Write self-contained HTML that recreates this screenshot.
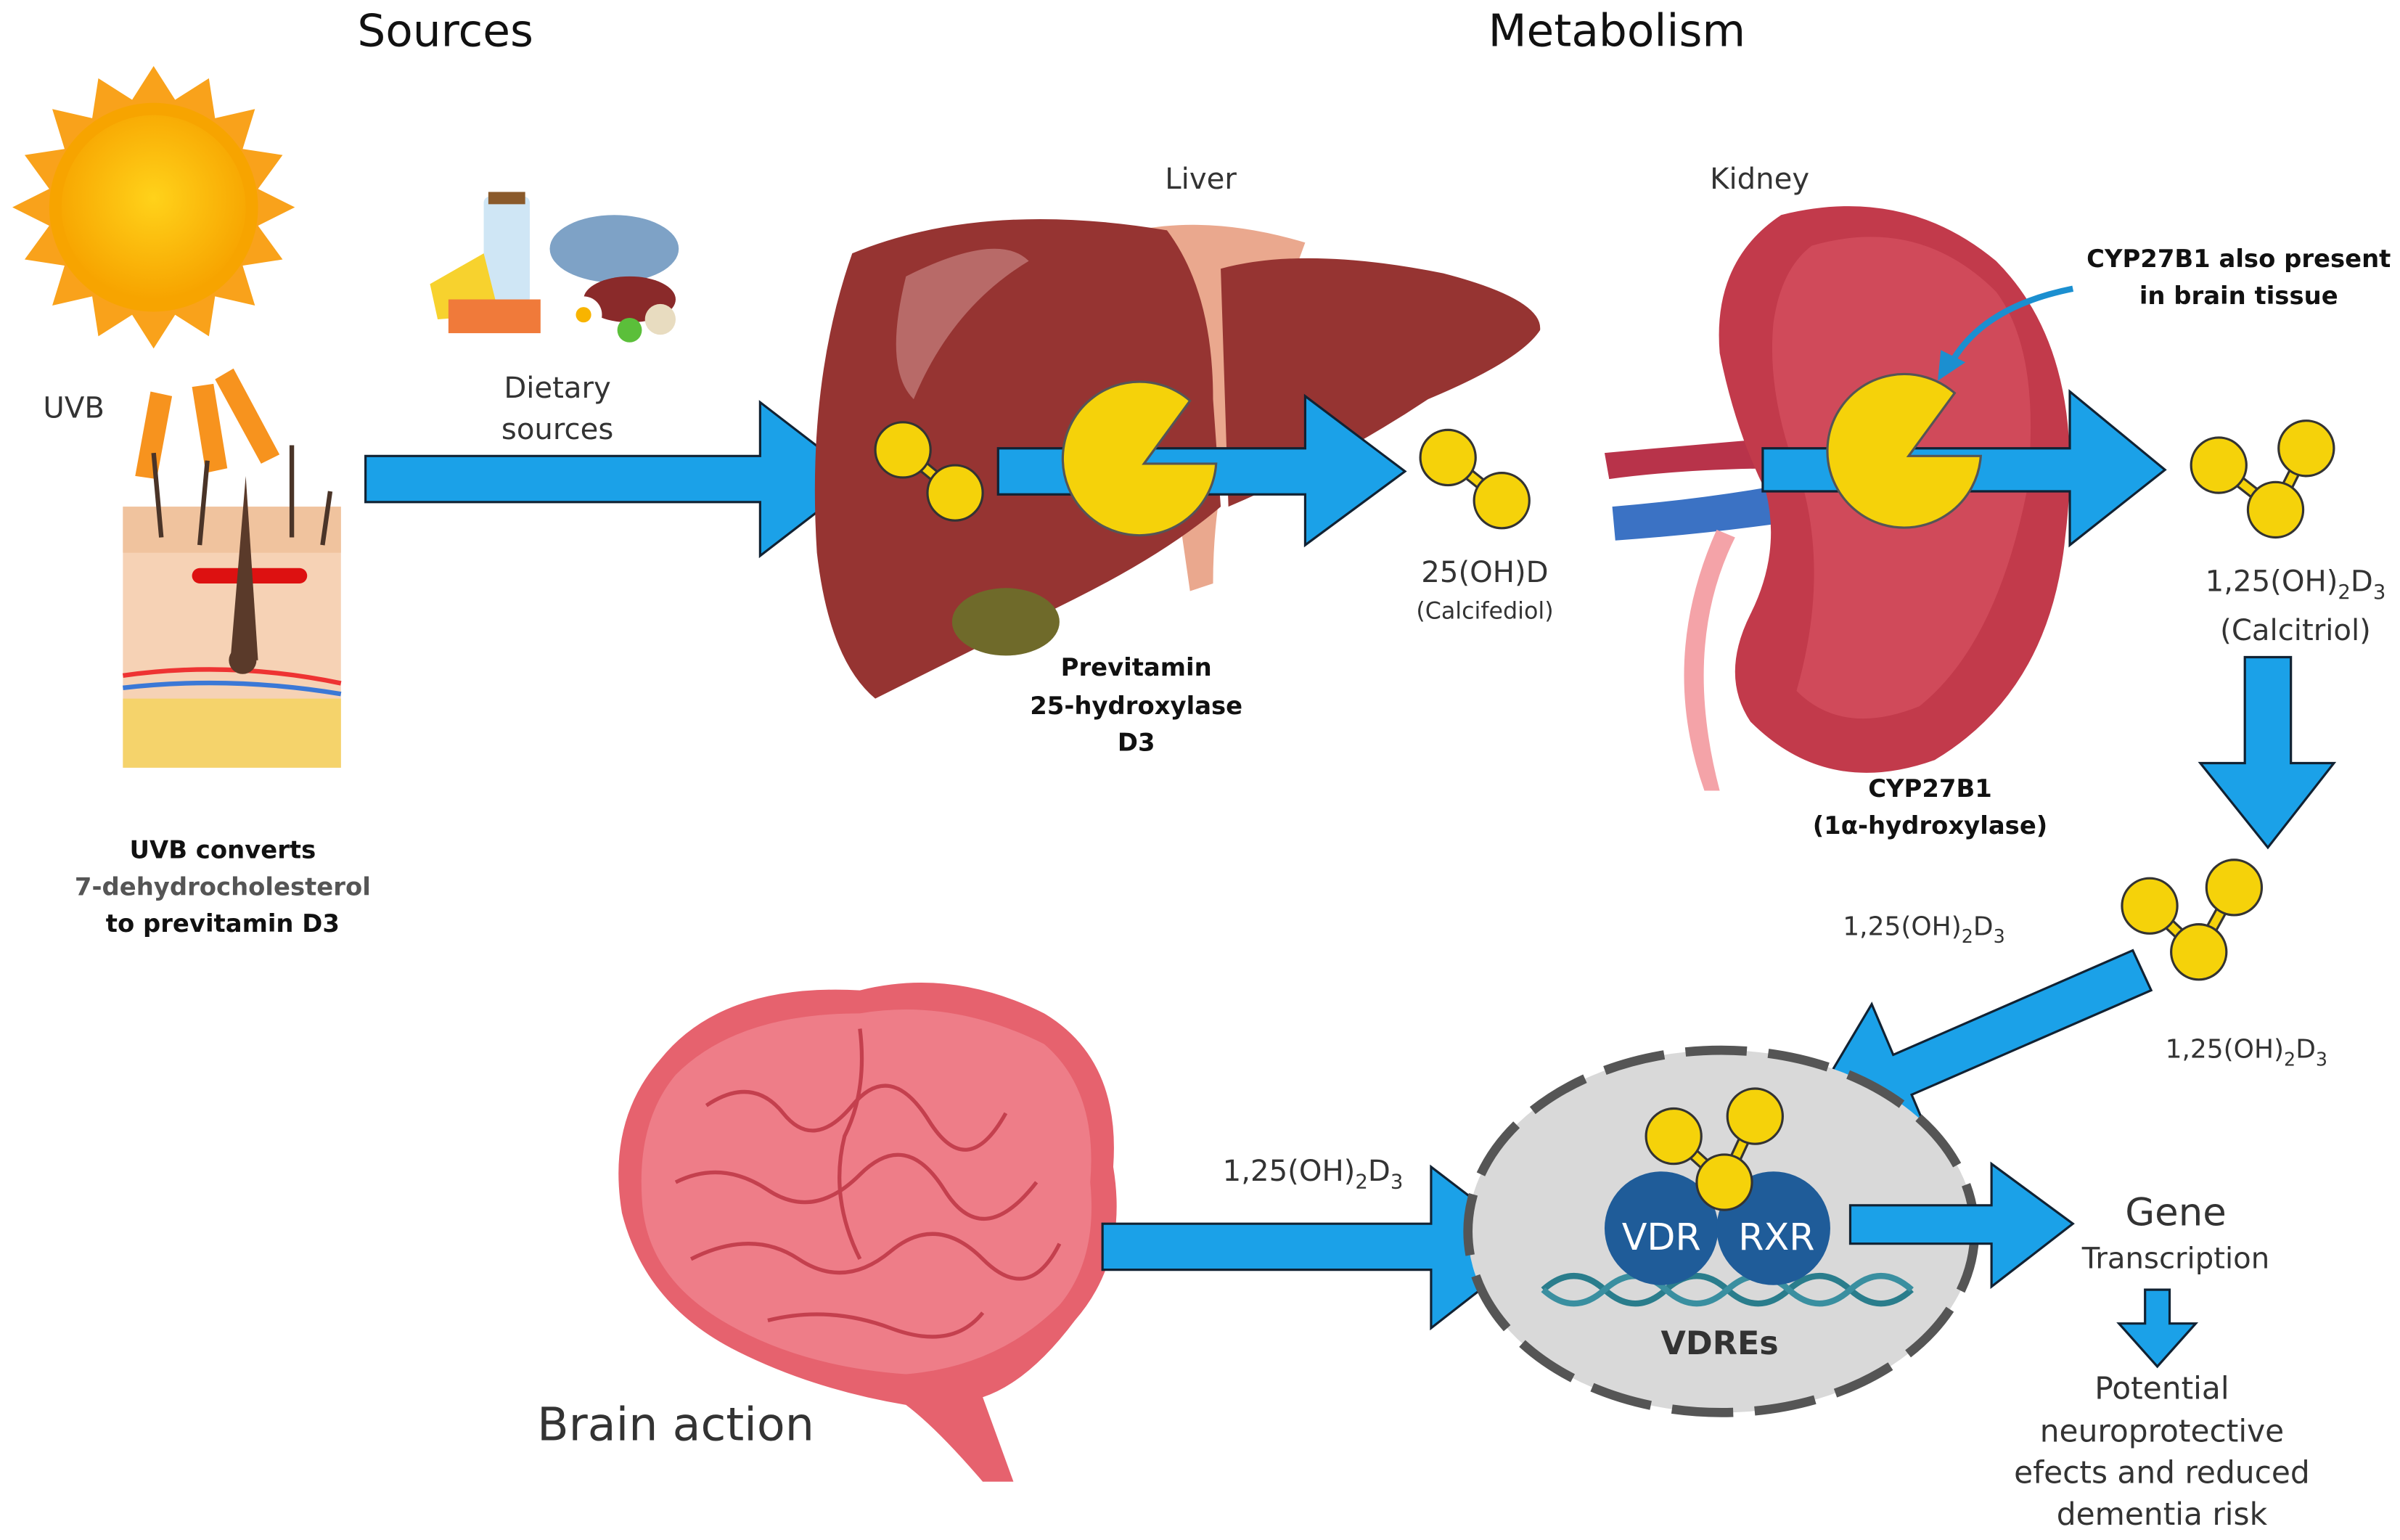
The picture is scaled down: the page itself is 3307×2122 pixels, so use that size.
<!DOCTYPE html>
<html><head><meta charset="utf-8"><style>
html,body{margin:0;padding:0;background:#fff}
svg{display:block}
text{font-family:"DejaVu Sans","Liberation Sans",sans-serif;fill:#333}
.b{font-weight:bold;fill:#111}
</style></head><body>
<svg width="3307" height="2122" viewBox="0 0 1563 1003" xmlns="http://www.w3.org/2000/svg">
<defs>
<radialGradient id="sun" cx="50%" cy="45%" r="55%"><stop offset="0" stop-color="#ffd21a"/><stop offset="1" stop-color="#f7a400"/></radialGradient>
</defs>

<text x="290" y="30" font-size="29" text-anchor="middle" style="fill:#111">Sources</text>
<text x="1053" y="30" font-size="29" text-anchor="middle" style="fill:#111">Metabolism</text>

<!-- Sun -->
<g transform="translate(100,135)">
<polygon fill="#f9a21b" points="0,-92 14,-70 36,-84 40,-58 66,-64 58,-38 84,-34 68,-12 92,0 68,12 84,34 58,38 66,64 40,58 36,84 14,70 0,92 -14,70 -36,84 -40,58 -66,64 -58,38 -84,34 -68,12 -92,0 -68,-12 -84,-34 -58,-38 -66,-64 -40,-58 -36,-84 -14,-70"/>
<circle r="68" fill="#f7a400"/>
<circle r="60" fill="url(#sun)"/>
</g>
<text x="48" y="272" font-size="19" text-anchor="middle">UVB</text>
<g fill="#f7931e">
<polygon points="98,255 112,258 102,312 88,310"/>
<polygon points="125,252 139,250 148,305 134,308"/>
<polygon points="140,247 152,240 182,296 170,302"/>
</g>
<!-- Skin -->
<rect x="80" y="330" width="142" height="170" fill="#f6d2b5"/>
<rect x="80" y="330" width="142" height="30" fill="#f0c39e"/>
<rect x="80" y="455" width="142" height="45" fill="#f5d36b"/>
<path d="M80,440 Q150,430 222,445" stroke="#e33" stroke-width="3" fill="none"/>
<path d="M80,448 Q150,440 222,452" stroke="#3b78d6" stroke-width="3" fill="none"/>
<rect x="125" y="370" width="75" height="10" fill="#d11" rx="5"/>
<path d="M150,430 L160,310 L168,430 Z" fill="#5a3a2a"/>
<circle cx="158" cy="430" r="9" fill="#5a3a2a"/>
<g stroke="#4a3428" stroke-width="3"><line x1="105" y1="350" x2="100" y2="295"/><line x1="130" y1="355" x2="135" y2="300"/><line x1="190" y1="350" x2="190" y2="290"/><line x1="210" y1="355" x2="215" y2="320"/></g>
<text x="145" y="559" font-size="16" class="b" text-anchor="middle">UVB converts</text>
<text x="145" y="583" font-size="16" class="b" text-anchor="middle" style="fill:#555">7-dehydrocholesterol</text>
<text x="145" y="607" font-size="16" class="b" text-anchor="middle">to previtamin D3</text>

<!-- Food -->
<rect x="315" y="128" width="30" height="70" fill="#cfe6f5" rx="4"/>
<rect x="318" y="125" width="24" height="8" fill="#8a5a2b"/>
<ellipse cx="400" cy="162" rx="42" ry="22" fill="#7ea2c6"/>
<polygon points="280,185 315,165 325,205 285,208" fill="#f7d22e"/>
<rect x="292" y="195" width="60" height="22" fill="#f07a3a"/>
<ellipse cx="410" cy="195" rx="30" ry="15" fill="#8a2a2a"/>
<circle cx="380" cy="205" r="12" fill="#fff"/><circle cx="380" cy="205" r="5" fill="#f8b400"/>
<circle cx="410" cy="215" r="8" fill="#5bbf3a"/><circle cx="430" cy="208" r="10" fill="#e8dcc0"/>
<text x="363" y="259" font-size="19" text-anchor="middle">Dietary</text>
<text x="363" y="286" font-size="19" text-anchor="middle">sources</text>

<!-- Arrow 1 -->
<path d="M238,297 H495 V262 L560,312 L495,362 V327 H238 Z" fill="#1ba1e8" stroke="#123" stroke-width="1.5"/>

<!-- Liver -->
<text x="782" y="123" font-size="19" text-anchor="middle">Liver</text>
<path d="M740,150 Q790,140 850,158 L820,240 Q790,300 790,380 L775,385 Q760,280 740,150Z" fill="#eaa88e"/>
<path d="M555,165 Q640,130 760,150 Q790,190 790,260 L795,330 Q760,360 700,390 Q640,420 570,455 Q540,430 532,360 Q525,250 555,165Z" fill="#963432"/>
<path d="M795,175 Q850,160 940,178 Q1005,195 1003,215 Q990,235 930,260 Q870,300 800,330 Z" fill="#963432"/>
<path d="M590,180 Q650,150 670,170 Q620,200 595,260 Q575,240 590,180Z" fill="#b86a68"/>
<ellipse cx="655" cy="405" rx="35" ry="22" fill="#6f6a2a"/>
<text x="740" y="440" font-size="16" class="b" text-anchor="middle">Previtamin</text>
<text x="740" y="465" font-size="16" class="b" text-anchor="middle">25-hydroxylase</text>
<text x="740" y="489" font-size="16" class="b" text-anchor="middle">D3</text>

<g stroke="#333" stroke-width="1.5" fill="#f5d20a">
<line x1="588" y1="293" x2="622" y2="321" stroke-width="8" stroke="#333"/><line x1="588" y1="293" x2="622" y2="321" stroke-width="5" stroke="#f5d20a"/>
<circle cx="588" cy="293" r="18"/><circle cx="622" cy="321" r="18"/>
</g>

<!-- Arrow 2 -->
<path d="M650,292 H850 V258 L915,307 L850,355 V322 H650 Z" fill="#1ba1e8" stroke="#123" stroke-width="1.5"/>
<path d="M745,302 L775,261 A50,50 0 1 0 792,302 Z" fill="#f5d20a" stroke="#555" stroke-width="1.5"/>

<g stroke="#333" stroke-width="1.5" fill="#f5d20a">
<line x1="943" y1="298" x2="978" y2="326" stroke-width="8"/><line x1="943" y1="298" x2="978" y2="326" stroke-width="5" stroke="#f5d20a"/>
<circle cx="943" cy="298" r="18"/><circle cx="978" cy="326" r="18"/>
</g>
<text x="967" y="379" font-size="19" text-anchor="middle">25(OH)D</text>
<text x="967" y="403" font-size="15" text-anchor="middle">(Calcifediol)</text>

<!-- Kidney -->
<text x="1146" y="123" font-size="19" text-anchor="middle">Kidney</text>
<path d="M1045,295 Q1100,290 1160,285 L1165,305 Q1100,305 1048,312 Z" fill="#b8334a"/>
<path d="M1050,330 Q1110,325 1165,315 L1165,340 Q1110,348 1052,352 Z" fill="#3b72c4"/>
<path d="M1130,350 Q1095,420 1120,515 L1110,515 Q1080,430 1118,345Z" fill="#f4a3a8"/>
<path d="M1160,140 Q1240,120 1300,170 Q1360,230 1345,350 Q1335,450 1260,495 Q1190,520 1140,470 Q1120,440 1140,400 Q1160,360 1150,320 Q1130,280 1120,230 Q1115,170 1160,140Z" fill="#c23a4b"/>
<path d="M1180,160 Q1250,140 1300,190 Q1330,230 1320,320 Q1300,420 1250,460 Q1200,480 1170,450 Q1190,380 1175,320 Q1150,260 1155,210 Q1160,175 1180,160Z" fill="#d04a5a"/>
<text x="1257" y="519" font-size="16" class="b" text-anchor="middle">CYP27B1</text>
<text x="1257" y="543" font-size="16" class="b" text-anchor="middle">(1α-hydroxylase)</text>
<text x="1458" y="174" font-size="16" class="b" text-anchor="middle">CYP27B1 also present</text>
<text x="1458" y="198" font-size="16" class="b" text-anchor="middle">in brain tissue</text>
<path d="M1350,188 Q1290,200 1270,238" stroke="#1b8fd0" stroke-width="4" fill="none"/>
<polygon points="1262,248 1264,228 1280,236" fill="#1b8fd0"/>

<!-- Arrow 3 -->
<path d="M1148,292 H1348 V255 L1410,306 L1348,355 V320 H1148 Z" fill="#1ba1e8" stroke="#123" stroke-width="1.5"/>
<path d="M1243,297 L1273,256 A50,50 0 1 0 1290,297 Z" fill="#f5d20a" stroke="#555" stroke-width="1.5"/>

<g stroke="#333" stroke-width="1.5" fill="#f5d20a">
<polyline points="1445,303 1482,332 1502,292" fill="none" stroke-width="8"/><polyline points="1445,303 1482,332 1502,292" fill="none" stroke-width="5" stroke="#f5d20a"/>
<circle cx="1445" cy="303" r="18"/><circle cx="1502" cy="292" r="18"/><circle cx="1482" cy="332" r="18"/>
</g>
<text x="1495" y="385" font-size="19" text-anchor="middle">1,25(OH)<tspan font-size="13" dy="5">2</tspan><tspan dy="-5">D</tspan><tspan font-size="13" dy="5">3</tspan></text>
<text x="1495" y="417" font-size="19" text-anchor="middle">(Calcitriol)</text>
<path d="M1462,428 H1492 V497 H1520 L1477,552 L1433,497 H1462 Z" fill="#1ba1e8" stroke="#123" stroke-width="1.5"/>

<g stroke="#333" stroke-width="1.5" fill="#f5d20a">
<polyline points="1400,590 1432,620 1455,578" fill="none" stroke-width="8"/><polyline points="1400,590 1432,620 1455,578" fill="none" stroke-width="5" stroke="#f5d20a"/>
<circle cx="1400" cy="590" r="18"/><circle cx="1455" cy="578" r="18"/><circle cx="1432" cy="620" r="18"/>
</g>
<text x="1253" y="609" font-size="17" text-anchor="middle">1,25(OH)<tspan font-size="12" dy="5">2</tspan><tspan dy="-5">D</tspan><tspan font-size="12" dy="5">3</tspan></text>
<text x="1463" y="689" font-size="17" text-anchor="middle">1,25(OH)<tspan font-size="12" dy="5">2</tspan><tspan dy="-5">D</tspan><tspan font-size="12" dy="5">3</tspan></text>

<!-- diagonal arrow -->
<polygon points="1175,728 1219,654 1233,687 1389,619 1401,645 1245,713 1259,746" fill="#1ba1e8" stroke="#123" stroke-width="1.5"/>

<!-- Brain -->
<path d="M430,690 Q470,640 560,645 Q620,630 680,660 Q730,690 725,760 Q735,820 700,860 Q670,900 640,910 L660,965 L640,965 Q610,930 590,915 Q530,905 480,880 Q420,850 405,790 Q395,730 430,690Z" fill="#e6626e"/>
<path d="M440,700 Q480,660 560,660 Q620,650 680,680 Q715,710 710,770 Q715,820 690,850 Q650,890 590,895 Q520,890 470,860 Q420,830 418,780 Q415,730 440,700Z" fill="#ee7d88"/>
<g stroke="#c4404e" stroke-width="2.5" fill="none">
<path d="M460,720 q30,-20 50,5 t45,-5 t50,10 t50,-5"/>
<path d="M440,770 q30,-15 60,5 t60,-10 t55,10 t60,-5"/>
<path d="M450,820 q40,-20 70,0 t60,-5 t60,5 t50,-10"/>
<path d="M500,860 q40,-10 80,5 t60,-10"/>
<path d="M560,670 q5,40 -10,70 q-10,40 10,80"/>
</g>
<text x="440" y="938" font-size="30" text-anchor="middle">Brain action</text>
<text x="855" y="769" font-size="19" text-anchor="middle">1,25(OH)<tspan font-size="13" dy="5">2</tspan><tspan dy="-5">D</tspan><tspan font-size="13" dy="5">3</tspan></text>

<!-- Arrow 4 -->
<path d="M718,797 H932 V760 L1000,812 L932,865 V827 H718 Z" fill="#1ba1e8" stroke="#123" stroke-width="1.5"/>

<!-- Cell -->
<ellipse cx="1121" cy="802" rx="165" ry="118" fill="#d9d9d9" stroke="#555" stroke-width="6" stroke-dasharray="40,14"/>
<path d="M1005,840 Q1025,822 1045,840 T1085,840 T1125,840 T1165,840 T1205,840 T1245,840" stroke="#2a7d8c" stroke-width="4" fill="none"/>
<path d="M1005,840 Q1025,858 1045,840 T1085,840 T1125,840 T1165,840 T1205,840 T1245,840" stroke="#3a8fa0" stroke-width="4" fill="none"/>
<circle cx="1082" cy="800" r="37" fill="#1f5c99"/>
<circle cx="1155" cy="800" r="37" fill="#1f5c99"/>
<text x="1082" y="814" font-size="24" text-anchor="middle" style="fill:#fff">VDR</text>
<text x="1157" y="814" font-size="24" text-anchor="middle" style="fill:#fff">RXR</text>
<g stroke="#333" stroke-width="1.5" fill="#f5d20a">
<polyline points="1090,740 1123,770 1143,727" fill="none" stroke-width="8"/><polyline points="1090,740 1123,770 1143,727" fill="none" stroke-width="5" stroke="#f5d20a"/>
<circle cx="1090" cy="740" r="18"/><circle cx="1143" cy="727" r="18"/><circle cx="1123" cy="770" r="18"/>
</g>
<text x="1120" y="882" font-size="21" class="b" text-anchor="middle" style="fill:#333">VDREs</text>

<!-- Arrow 5 -->
<path d="M1205,785 H1297 V758 L1350,797 L1297,838 V810 H1205 Z" fill="#1ba1e8" stroke="#123" stroke-width="1.5"/>
<text x="1417" y="798" font-size="25" text-anchor="middle">Gene</text>
<text x="1417" y="826" font-size="19" text-anchor="middle">Transcription</text>
<path d="M1397,840 H1413 V862 H1430 L1405,890 L1380,862 H1397 Z" fill="#1ba1e8" stroke="#123" stroke-width="1.5"/>
<text x="1408" y="911" font-size="20" text-anchor="middle">Potential</text>
<text x="1408" y="939" font-size="20" text-anchor="middle">neuroprotective</text>
<text x="1408" y="966" font-size="20" text-anchor="middle">efects and reduced</text>
<text x="1408" y="993" font-size="20" text-anchor="middle">dementia risk</text>
</svg>
</body></html>
